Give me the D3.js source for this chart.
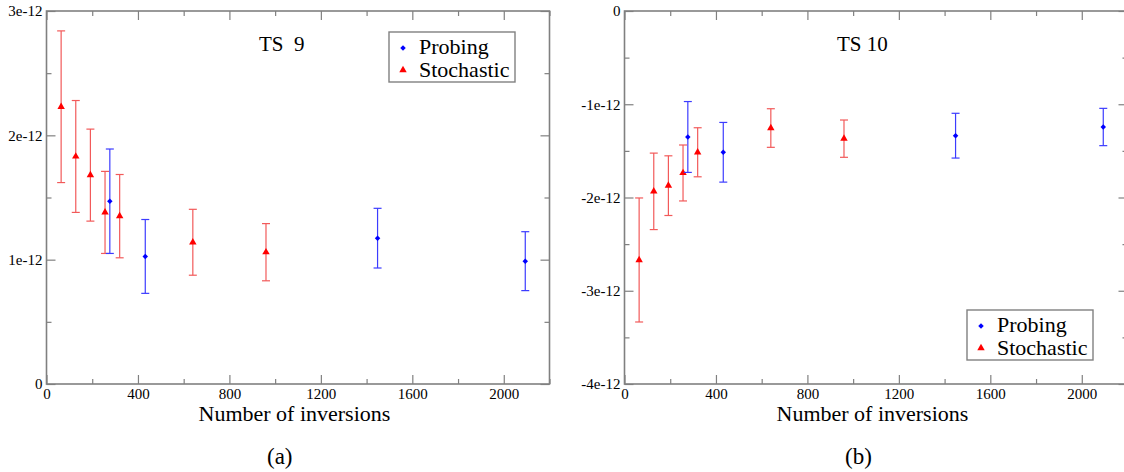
<!DOCTYPE html>
<html>
<head>
<meta charset="utf-8">
<script src="https://cdn.jsdelivr.net/npm/d3@7"></script>
<style>
  html, body { margin: 0; padding: 0; background: #fff; }
  svg, svg text { font-family: "Liberation Serif", "Times New Roman", Times, "DejaVu Serif", serif !important; }
  svg { display: block; }
  text { white-space: pre; }
</style>
</head>
<body>
<svg id="chart" width="1124" height="472"></svg>
<script>
// ---- data ----
const stochX = [64, 128, 192, 256, 320, 640, 960];
const probX = [277, 432, 1448, 2094];

const ts9StochY   = [2.23e-12, 1.83e-12, 1.68e-12, 1.38e-12, 1.35e-12, 1.14e-12, 1.06e-12];
const ts9StochErr = [0.61e-12, 0.45e-12, 0.37e-12, 0.33e-12, 0.335e-12, 0.265e-12, 0.23e-12];
const ts9ProbY    = [1.47e-12, 1.026e-12, 1.173e-12, 0.988e-12];
const ts9ProbErr  = [0.42e-12, 0.297e-12, 0.24e-12, 0.237e-12];

const ts10StochY   = [-2.67e-12, -1.934e-12, -1.873e-12, -1.737e-12, -1.515e-12, -1.255e-12, -1.369e-12];
const ts10StochErr = [0.665e-12, 0.41e-12, 0.32e-12, 0.30e-12, 0.263e-12, 0.207e-12, 0.20e-12];
const ts10ProbY    = [-1.351e-12, -1.515e-12, -1.337e-12, -1.244e-12];
const ts10ProbErr  = [0.38e-12, 0.32e-12, 0.24e-12, 0.20e-12];

const xTickValues = [0, 400, 800, 1200, 1600, 2000];
const xTickLabels = ["0", "400", "800", "1200", "1600", "2000"];
const xMinorValues = [200, 600, 1000, 1400, 1800, 2200];
const ts9YTickValues = [0, 1e-12, 2e-12, 3e-12];
const ts9YTickLabels = ["0", "1e-12", "2e-12", "3e-12"];
const ts9YMinor = [0.5e-12, 1.5e-12, 2.5e-12];
const ts10YTickValues = [-4e-12, -3e-12, -2e-12, -1e-12, 0];
const ts10YTickLabels = ["-4e-12", "-3e-12", "-2e-12", "-1e-12", "0"];
const ts10YMinor = [-3.5e-12, -2.5e-12, -1.5e-12, -0.5e-12];

const seriesNames = ["Probing", "Stochastic"];
const xLabel = "Number of inversions";

// ---- drawing ----
const FONT = '"Liberation Serif", "Times New Roman", Times, "DejaVu Serif", serif';
const svg = d3.select("#chart");
const AXIS = "#808080";
const RED = "#ff0000", RED_BAR = "#f25a5a";
const BLUE = "#0000ff", BLUE_BAR = "#3c3cff";

const triangle = d3.symbol().type(d3.symbolTriangle).size(24);
const diamond = d3.symbol().type(d3.symbolSquare).size(15);

function panel(cfg) {
  const x = d3.scaleLinear().domain([0, 2200]).range([cfg.x0, cfg.x0 + 503]);
  const y = d3.scaleLinear().domain(cfg.yDomain).range([384, 11]);
  const g = svg.append("g");

  g.append("rect").attr("x", x(0)).attr("y", y.range()[1])
    .attr("width", x(2200) - x(0)).attr("height", y.range()[0] - y.range()[1])
    .attr("fill", "none").attr("stroke", AXIS).attr("stroke-width", 1.6);

  function styleAxis(sel) {
    sel.attr("font-family", FONT).attr("font-size", 15);
    sel.select(".domain").remove();
    sel.selectAll(".tick line").attr("stroke", AXIS).attr("stroke-width", 1.2);
    sel.selectAll("text").attr("fill", "#000");
  }
  const xl = d => xTickLabels[xTickValues.indexOf(d)];
  const yl = d => cfg.yLabels[cfg.yTicks.indexOf(d)];

  g.append("g").attr("transform", `translate(0,${y.range()[0]})`)
    .call(d3.axisBottom(x).tickValues(xTickValues).tickFormat(xl).tickSize(-9).tickPadding(4)).call(styleAxis);
  g.append("g").attr("transform", `translate(0,${y.range()[0]})`)
    .call(d3.axisBottom(x).tickValues(xMinorValues).tickFormat("").tickSize(-5)).call(styleAxis);
  g.append("g").attr("transform", `translate(0,${y.range()[1]})`)
    .call(d3.axisTop(x).tickValues(xTickValues).tickFormat("").tickSize(-9)).call(styleAxis);
  g.append("g").attr("transform", `translate(0,${y.range()[1]})`)
    .call(d3.axisTop(x).tickValues(xMinorValues).tickFormat("").tickSize(-5)).call(styleAxis);

  g.append("g").attr("transform", `translate(${x(0)},0)`)
    .call(d3.axisLeft(y).tickValues(cfg.yTicks).tickFormat(yl).tickSize(-9).tickPadding(4)).call(styleAxis);
  g.append("g").attr("transform", `translate(${x(0)},0)`)
    .call(d3.axisLeft(y).tickValues(cfg.yMinor).tickFormat("").tickSize(-5)).call(styleAxis);
  g.append("g").attr("transform", `translate(${x(2200)},0)`)
    .call(d3.axisRight(y).tickValues(cfg.yTicks).tickFormat("").tickSize(-9)).call(styleAxis);
  g.append("g").attr("transform", `translate(${x(2200)},0)`)
    .call(d3.axisRight(y).tickValues(cfg.yMinor).tickFormat("").tickSize(-5)).call(styleAxis);

  function series(xs, ys, es, barColor, color, sym) {
    const data = xs.map((v, i) => ({ x: v, y: ys[i], e: es[i] }));
    const s = g.append("g");
    const bar = s.selectAll("g.bar").data(data).join("g").attr("class", "bar")
      .attr("stroke", barColor).attr("stroke-width", 1.2).attr("fill", "none");
    bar.append("line").attr("x1", d => x(d.x)).attr("x2", d => x(d.x))
      .attr("y1", d => y(d.y + d.e)).attr("y2", d => y(d.y - d.e));
    bar.append("line").attr("x1", d => x(d.x) - 4).attr("x2", d => x(d.x) + 4)
      .attr("y1", d => y(d.y + d.e)).attr("y2", d => y(d.y + d.e));
    bar.append("line").attr("x1", d => x(d.x) - 4).attr("x2", d => x(d.x) + 4)
      .attr("y1", d => y(d.y - d.e)).attr("y2", d => y(d.y - d.e));
    s.selectAll("path").data(data).join("path")
      .attr("d", sym)
      .attr("transform", d => `translate(${x(d.x)},${y(d.y)})` + (sym === diamond ? " rotate(45)" : ""))
      .attr("fill", color);
  }
  series(stochX, cfg.stochY, cfg.stochErr, RED_BAR, RED, triangle);
  series(probX, cfg.probY, cfg.probErr, BLUE_BAR, BLUE, diamond);

  g.append("text").attr("x", cfg.titleX).attr("y", 51).attr("font-family", FONT).attr("font-size", 21).text(cfg.title);

  const L = cfg.legend;
  g.append("rect").attr("x", L.x).attr("y", L.y).attr("width", 126).attr("height", 50)
    .attr("fill", "#fff").attr("stroke", AXIS).attr("stroke-width", 1.4);
  const items = [{ name: seriesNames[0], sym: diamond, c: BLUE }, { name: seriesNames[1], sym: triangle, c: RED }];
  items.forEach((it, i) => {
    g.append("path").attr("d", it.sym)
      .attr("transform", `translate(${L.x + 14},${L.y + 16 + i * 22})` + (it.sym === diamond ? " rotate(45)" : ""))
      .attr("fill", it.c);
    g.append("text").attr("x", L.x + 30).attr("y", L.y + 22 + i * 23)
      .attr("font-family", FONT).attr("font-size", 22).text(it.name);
  });

  g.append("text").attr("x", cfg.x0 + 152).attr("y", 421).attr("font-family", FONT).attr("font-size", 22).text(xLabel);
  g.append("text").attr("x", cfg.capX).attr("y", 464).attr("font-family", FONT).attr("font-size", 23).text(cfg.caption);
}

panel({
  x0: 46.5, yDomain: [0, 3e-12], yTicks: ts9YTickValues, yLabels: ts9YTickLabels, yMinor: ts9YMinor,
  stochY: ts9StochY, stochErr: ts9StochErr, probY: ts9ProbY, probErr: ts9ProbErr,
  title: "TS  9", titleX: 259, legend: { x: 389, y: 32 }, caption: "(a)", capX: 267
});
panel({
  x0: 624.5, yDomain: [-4e-12, 0], yTicks: ts10YTickValues, yLabels: ts10YTickLabels, yMinor: ts10YMinor,
  stochY: ts10StochY, stochErr: ts10StochErr, probY: ts10ProbY, probErr: ts10ProbErr,
  title: "TS 10", titleX: 837, legend: { x: 967, y: 310 }, caption: "(b)", capX: 845
});
</script>
</body>
</html>
